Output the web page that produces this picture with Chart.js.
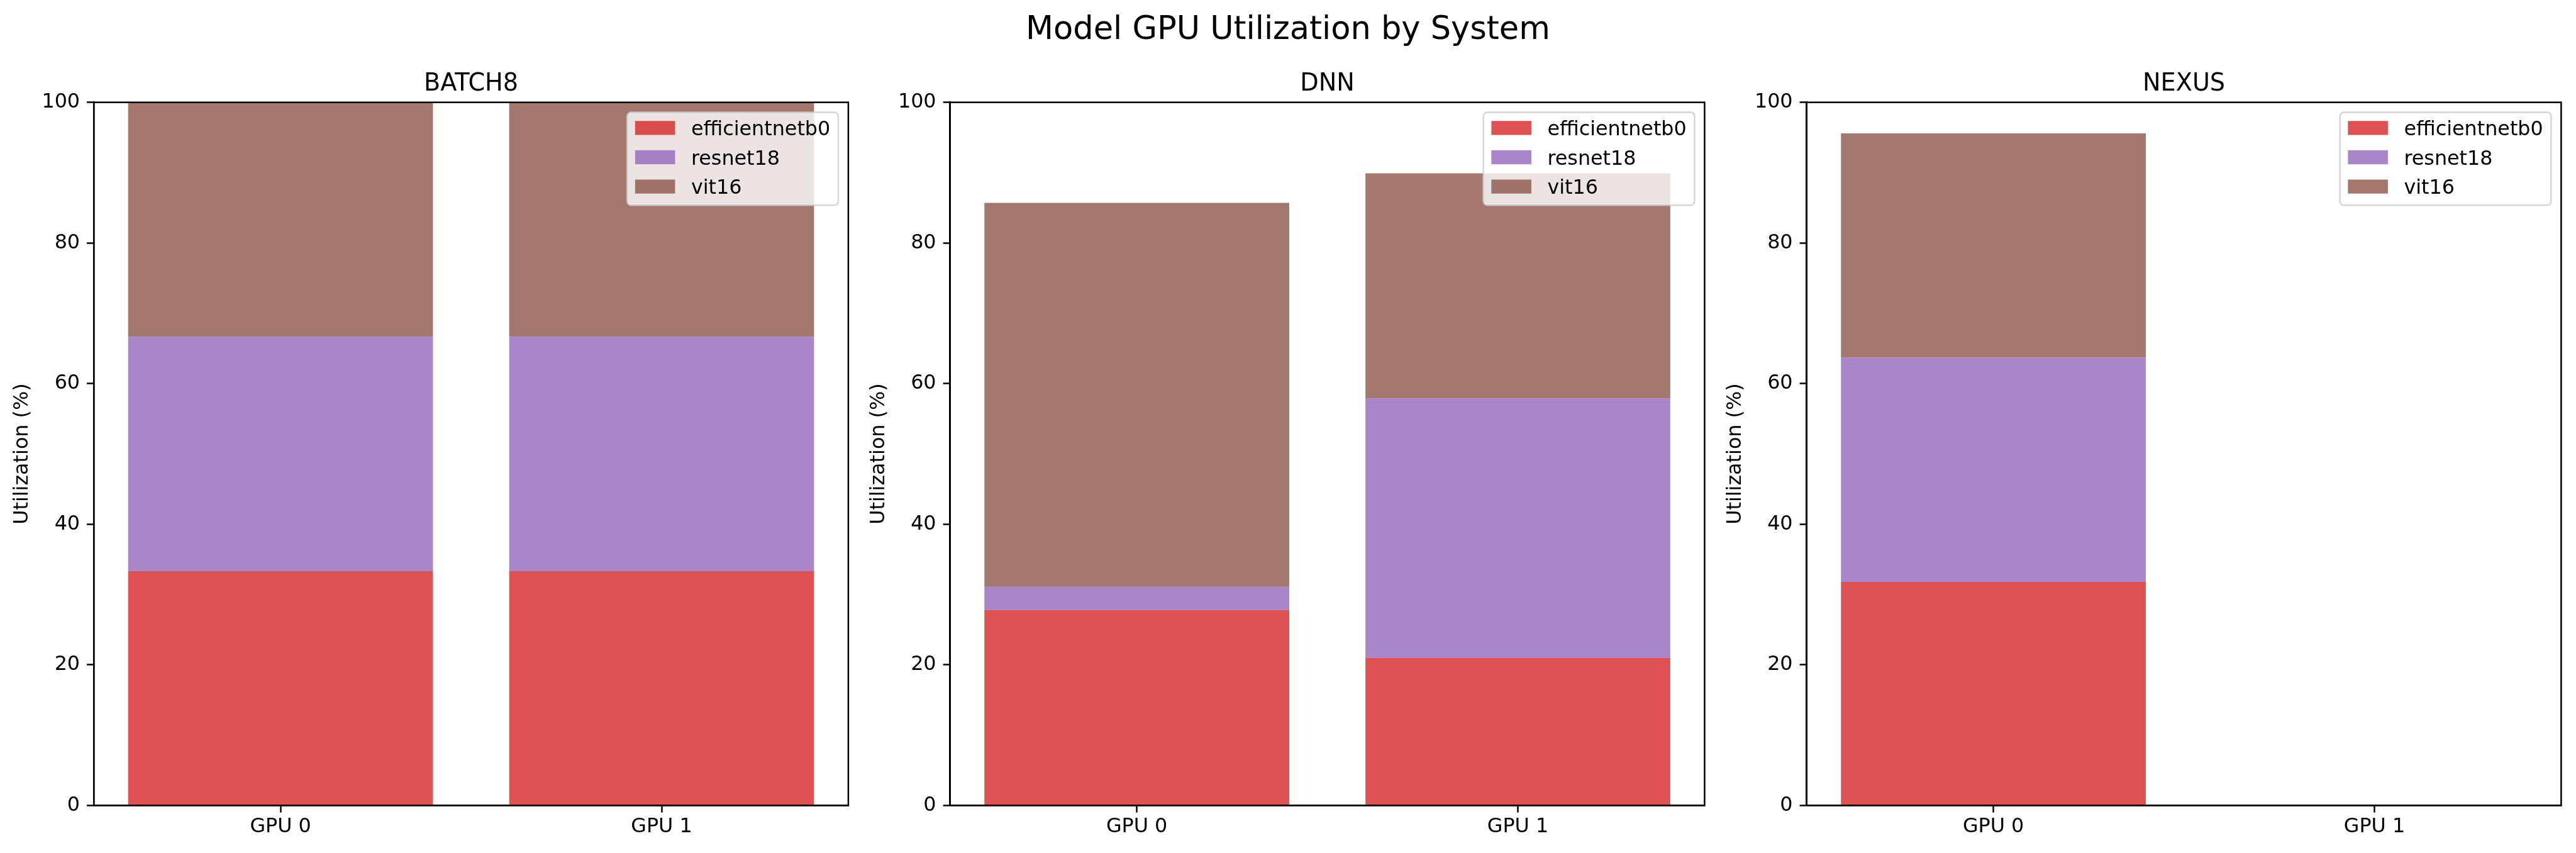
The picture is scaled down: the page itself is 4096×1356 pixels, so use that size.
<!DOCTYPE html>
<html>
<head>
<meta charset="utf-8">
<title>Model GPU Utilization by System</title>
<script src="https://cdn.jsdelivr.net/npm/chart.js@4.4.0/dist/chart.umd.min.js"></script>
<style>
  html, body { margin: 0; padding: 0; background: #fff; }
  #wrap { position: relative; width: 4096px; height: 1356px; overflow: hidden; }
  #wrap canvas { position: absolute; left: 0; top: 0; }
</style>
</head>
<body>
<div id="wrap">
  <canvas id="batch8" width="4096" height="1356"></canvas>
  <canvas id="dnn" width="4096" height="1356"></canvas>
  <canvas id="nexus" width="4096" height="1356"></canvas>
</div>
<script>
// ---- data ----
const gpus = ["GPU 0", "GPU 1"];
const models = ["efficientnetb0", "resnet18", "vit16"];
const yTicks = [0, 20, 40, 60, 80, 100];

// utilization (%) per model, one value per GPU
const batch8Eff = [33.33, 33.33];
const batch8Res = [33.33, 33.33];
const batch8Vit = [33.34, 33.34];

const dnnEff = [27.8, 21.0];
const dnnRes = [3.3, 36.9];
const dnnVit = [54.6, 32.0];

const nexusEff = [31.8, 0];
const nexusRes = [31.9, 0];
const nexusVit = [31.9, 0];

const modelColors = ['rgba(214,39,40,0.8)', 'rgba(148,103,189,0.8)', 'rgba(140,86,75,0.8)'];

// ---- layout (window px) ----
const fs = 31.8;            // 10pt at 300dpi, scaled
const panelLeft = [149.2, 1510.7, 2872.7];
const panelWidth = 1199.7;
const panelTop = 162.7;
const panelBottom = 1280.5;
const yAxisWidth = 140;

Chart.defaults.font.family = '"DejaVu Sans", sans-serif';
Chart.defaults.color = '#000';

const panelPlugin = {
  id: 'panel',
  afterDatasetsDraw(chart, args, opts) {
    const ctx = chart.ctx;
    const a = chart.chartArea;
    ctx.save();

    // spines
    ctx.strokeStyle = '#000';
    ctx.lineWidth = 2.5;
    ctx.strokeRect(a.left, a.top, a.right - a.left, a.bottom - a.top);

    // subplot title
    ctx.fillStyle = '#000';
    ctx.font = '38.2px "DejaVu Sans"';
    ctx.textAlign = 'center';
    ctx.textBaseline = 'alphabetic';
    ctx.fillText(opts.title, (a.left + a.right) / 2, a.top - 19.1);

    // figure title
    if (opts.suptitle) {
      ctx.font = '51px "DejaVu Sans"';
      ctx.fillText(opts.suptitle, 2048, 61.6);
    }

    // legend, upper right
    ctx.font = fs + 'px "DejaVu Sans"';
    const sets = chart.data.datasets;
    let tw = 0;
    sets.forEach(d => { tw = Math.max(tw, ctx.measureText(d.label).width); });
    const w = fs * (0.4 + 2.0 + 0.8 + 0.4) + tw;
    const h = 147.6;
    const x0 = a.right - 15.9 - w;
    const y0 = a.top + 15.9;
    ctx.beginPath();
    ctx.roundRect(x0, y0, w, h, 6.4);
    ctx.fillStyle = 'rgba(255,255,255,0.8)';
    ctx.fill();
    ctx.lineWidth = 2.5;
    ctx.strokeStyle = 'rgba(204,204,204,0.8)';
    ctx.stroke();
    ctx.textAlign = 'left';
    sets.forEach((d, i) => {
      const cy = y0 + 24.8 + i * 46.6;
      ctx.fillStyle = d.backgroundColor;
      ctx.fillRect(x0 + 0.4 * fs, cy - 0.35 * fs, 2.0 * fs, 0.7 * fs);
      ctx.fillStyle = '#000';
      ctx.fillText(d.label, x0 + 3.2 * fs, cy + 11.6);
    });
    ctx.restore();
  }
};

function makePanel(id, idx, title, eff, res, vit, suptitle) {
  const series = [eff, res, vit];
  const left = panelLeft[idx];
  const right = left + panelWidth;
  new Chart(document.getElementById(id), {
    type: 'bar',
    data: {
      datasets: models.map((m, i) => ({
        label: m,
        data: series[i].map((v, j) => ({ x: j, y: v })),
        backgroundColor: modelColors[i],
        borderWidth: 0,
        categoryPercentage: 1.0,
        barPercentage: 0.8,
      })),
    },
    plugins: [panelPlugin],
    options: {
      responsive: false,
      animation: false,
      events: [],
      layout: {
        autoPadding: false,
        padding: { left: left - yAxisWidth, right: 4096 - right, top: panelTop, bottom: 0 },
      },
      plugins: {
        legend: { display: false },
        tooltip: { enabled: false },
        panel: { title: title, suptitle: suptitle },
      },
      scales: {
        x: {
          type: 'linear',
          stacked: true,
          offset: false,
          min: -0.49,
          max: 1.49,
          afterBuildTicks: s => { s.ticks = gpus.map((g, j) => ({ value: j })); },
          afterFit: s => { s.height = 1356 - panelBottom; },
          ticks: {
            callback: v => gpus[v],
            font: { size: fs },
            color: '#000',
            padding: 4,
            maxRotation: 0,
            autoSkip: false,
          },
          grid: { display: true, drawOnChartArea: false, offset: false, tickLength: 11.1, tickWidth: 2.5, color: '#000', tickColor: '#000' },
          border: { display: true, color: '#000', width: 2.5 },
        },
        y: {
          stacked: true,
          min: 0,
          max: 100,
          afterBuildTicks: s => { s.ticks = yTicks.map(v => ({ value: v })); },
          afterFit: s => { s.width = yAxisWidth; },
          ticks: { font: { size: fs }, color: '#000', padding: 11 },
          grid: { display: true, drawOnChartArea: false, tickLength: 11.1, tickWidth: 2.5, color: '#000', tickColor: '#000' },
          border: { display: true, color: '#000', width: 2.5 },
          title: {
            display: true,
            text: 'Utilization (%)',
            font: { size: fs },
            color: '#000',
            padding: { top: 7.5, bottom: 0 },
          },
        },
      },
    },
  });
}

makePanel('batch8', 0, 'BATCH8', batch8Eff, batch8Res, batch8Vit, 'Model GPU Utilization by System');
makePanel('dnn', 1, 'DNN', dnnEff, dnnRes, dnnVit);
makePanel('nexus', 2, 'NEXUS', nexusEff, nexusRes, nexusVit);
</script>
</body>
</html>
